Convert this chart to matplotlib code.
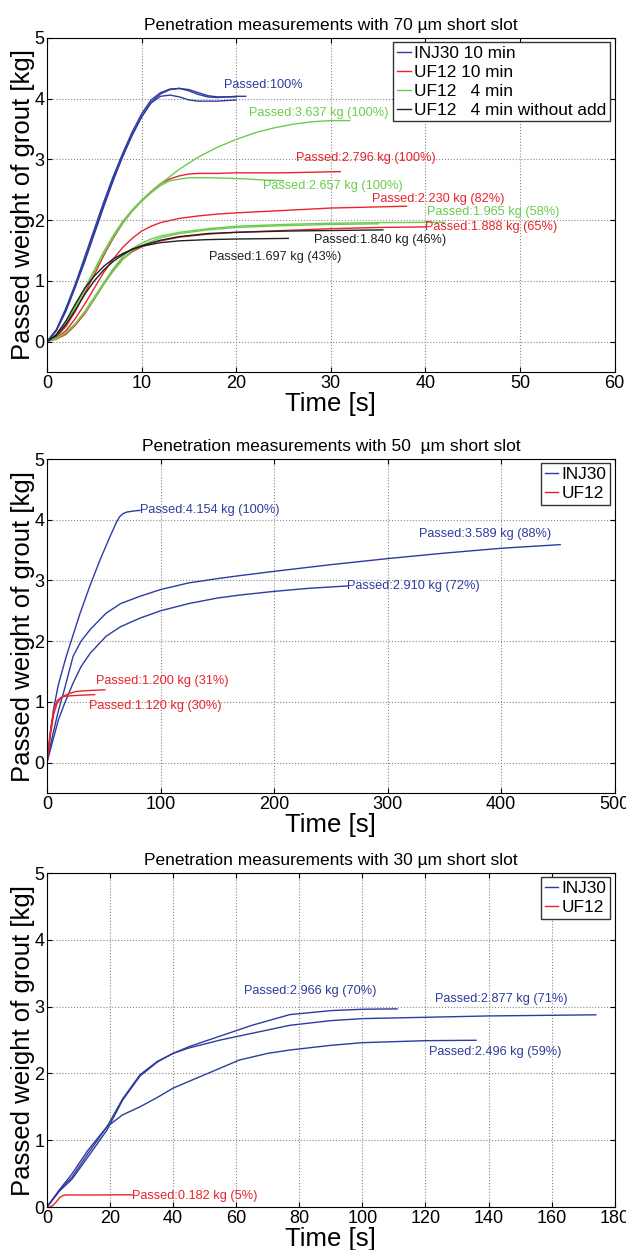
import matplotlib
matplotlib.use('Agg')
import matplotlib.pyplot as plt

plt.rcParams['font.family'] = ['Liberation Sans', 'DejaVu Sans']

BLUE = '#2d3c9e'
RED = '#e8232b'
GREEN = '#6ccb4f'
BLACK = '#222222'

# ---------- 70 um slot ----------
inj70_t = [[0,1,2,3,4,5,6,7,8,9,10,11,12,13,14,15,16,17,18,19,20,21],
           [0,1,2,3,4,5,6,7,8,9,10,11,12,13,14,15,16,17,18,19,20],
           [0,1,2,3,4,5,6,7,8,9,10,11,12,13,14,15,16,17,18,19,20]]
inj70_y = [[0,0.2,0.55,0.95,1.4,1.85,2.3,2.72,3.1,3.45,3.75,3.98,4.1,4.16,4.17,4.13,4.07,4.03,4.02,4.03,4.04,4.04],
           [0,0.18,0.5,0.9,1.32,1.77,2.22,2.65,3.05,3.4,3.7,3.94,4.08,4.15,4.17,4.15,4.1,4.05,4.03,4.03,4.03],
           [0,0.19,0.52,0.92,1.35,1.8,2.25,2.68,3.05,3.4,3.7,3.93,4.04,4.06,4.03,3.98,3.96,3.96,3.96,3.97,3.98]]
uf10_t = [[0,1,2,3,4,5,6,7,8,9,10,11,12,13,14,15,16,18,20,25,31],
          [0,1,2,3,4,5,6,7,8,9,10,11,12,14,16,18,20,25,30,38],
          [0,1,2,3,4,5,6,7,8,9,10,11,12,14,17,20,25,30,35,40]]
uf10_y = [[0,0.08,0.25,0.5,0.8,1.1,1.42,1.7,1.95,2.15,2.32,2.47,2.6,2.68,2.73,2.76,2.77,2.77,2.78,2.78,2.8],
          [0,0.06,0.18,0.38,0.62,0.88,1.14,1.36,1.55,1.7,1.82,1.9,1.96,2.03,2.07,2.1,2.12,2.16,2.2,2.23],
          [0,0.04,0.12,0.27,0.46,0.7,0.95,1.17,1.36,1.48,1.56,1.62,1.66,1.72,1.77,1.8,1.83,1.86,1.88,1.89]]
uf4_t = [[0,1,2,3,4,5,6,7,8,9,10,11,12,14,16,18,20,22,24,26,28,30,32],
         [0,1,2,3,4,5,6,7,8,9,10,11,12,13,15,17,19,21,23,25],
         [0,1,2,3,4,5,6,7,8,9,10,11,12,14,17,20,25,30,35,42],
         [0,1,2,3,4,5,6,7,8,9,10,11,12,14,17,20,25,30,35]]
uf4_y = [[0,0.1,0.3,0.58,0.88,1.18,1.48,1.75,1.98,2.17,2.33,2.47,2.6,2.84,3.04,3.2,3.33,3.44,3.52,3.58,3.62,3.64,3.64],
         [0,0.1,0.29,0.56,0.86,1.16,1.45,1.72,1.95,2.15,2.31,2.45,2.57,2.65,2.7,2.7,2.69,2.68,2.66,2.65],
         [0,0.05,0.15,0.3,0.5,0.73,0.97,1.2,1.4,1.53,1.62,1.69,1.74,1.8,1.86,1.9,1.93,1.95,1.96,1.965],
         [0,0.05,0.14,0.29,0.48,0.7,0.94,1.16,1.35,1.5,1.58,1.65,1.71,1.78,1.84,1.88,1.91,1.93,1.94]]
uf4na_t = [[0,1,2,3,4,5,6,7,8,9,10,12,14,17,20,25,30,35.5],
           [0,1,2,3,4,5,6,7,8,9,10,12,14,17,20,25.5]]
uf4na_y = [[0,0.1,0.28,0.52,0.78,1.0,1.18,1.32,1.43,1.52,1.58,1.67,1.73,1.78,1.8,1.82,1.83,1.84],
           [0,0.12,0.34,0.62,0.88,1.08,1.24,1.36,1.45,1.52,1.57,1.63,1.66,1.68,1.69,1.7]]
notes70 = [('Passed:100%', 18.7, 4.23, BLUE),
           ('Passed:3.637 kg (100%)', 21.4, 3.76, GREEN),
           ('Passed:2.796 kg (100%)', 26.3, 3.02, RED),
           ('Passed:2.657 kg (100%)', 22.8, 2.57, GREEN),
           ('Passed:2.230 kg (82%)', 34.3, 2.35, RED),
           ('Passed:1.965 kg (58%)', 40.2, 2.13, GREEN),
           ('Passed:1.888 kg (65%)', 40.0, 1.88, RED),
           ('Passed:1.840 kg (46%)', 28.2, 1.68, BLACK),
           ('Passed:1.697 kg (43%)', 17.1, 1.40, BLACK)]

# ---------- 50 um slot ----------
inj50_t = [[0,3,6,10,17,23,29,38,47,55,61,64,67,70,75,82],
           [0,5,10,15,23,30,38,52,65,82,100,125,150,170,200,250,300,350,400,452],
           [0,5,10,15,23,30,38,52,65,82,100,125,150,170,200,230,265]]
inj50_y = [[0,0.5,0.9,1.28,1.75,2.1,2.45,2.92,3.35,3.7,3.95,4.05,4.1,4.125,4.14,4.155],
           [0,0.45,0.85,1.18,1.75,2.0,2.19,2.46,2.62,2.74,2.85,2.96,3.03,3.08,3.15,3.26,3.36,3.45,3.53,3.59],
           [0,0.35,0.7,0.95,1.31,1.58,1.8,2.08,2.24,2.38,2.5,2.62,2.71,2.76,2.82,2.87,2.91]]
uf50_t = [[0,3,6,9,12,15,20,25,30,40,51],
          [0,3,6,9,12,15,20,30,42]]
uf50_y = [[0,0.45,0.8,0.98,1.06,1.1,1.14,1.17,1.18,1.19,1.2],
          [0,0.5,0.88,1.02,1.07,1.09,1.1,1.11,1.12]]
notes50 = [('Passed:4.154 kg (100%)', 81.7, 4.16, BLUE),
           ('Passed:3.589 kg (88%)', 327.7, 3.76, BLUE),
           ('Passed:2.910 kg (72%)', 264.3, 2.91, BLUE),
           ('Passed:1.200 kg (31%)', 43.0, 1.34, RED),
           ('Passed:1.120 kg (30%)', 36.6, 0.94, RED)]

# ---------- 30 um slot ----------
inj30_t = [[0,4,8,13,19,24,29.5,35,40,45,55,65,77,90,100,111],
           [0,4,8,13,19,24,29.5,35,40,45,55,65,77,90,100,120,140,160,174],
           [0,4,8,13,19,24,29.5,35,40,50,61,70,77,90,100,120,136]]
inj30_y = [[0,0.25,0.45,0.8,1.2,1.62,1.98,2.18,2.3,2.4,2.56,2.72,2.88,2.94,2.96,2.966],
           [0,0.24,0.42,0.75,1.15,1.6,1.96,2.17,2.3,2.38,2.5,2.6,2.72,2.79,2.82,2.84,2.86,2.87,2.877],
           [0,0.26,0.5,0.85,1.2,1.38,1.5,1.64,1.78,1.98,2.2,2.3,2.35,2.42,2.46,2.49,2.496]]
uf30_t = [[0,1,2,3,4,5,6,10,15,20,27]]
uf30_y = [[0,0,0.03,0.08,0.14,0.17,0.18,0.18,0.18,0.182,0.182]]
notes30 = [('Passed:2.966 kg (70%)', 62.4, 3.23, BLUE),
           ('Passed:2.877 kg (71%)', 123, 3.11, BLUE),
           ('Passed:2.496 kg (59%)', 121, 2.32, BLUE),
           ('Passed:0.182 kg (5%)', 27.1, 0.17, RED)]


def draw(ax, groups, notes, title, xmax, xstep, ymin, labels):
    for (ts, ys, col), lab in zip(groups, labels):
        for i, (t, y) in enumerate(zip(ts, ys)):
            ax.plot(t, y, color=col, lw=1.0, label=lab if i == 0 else None)
    for txt, x, y, col in notes:
        ax.text(x, y, txt, color=col, fontsize=9.2, va='center', ha='left')
    ax.set_xlim(0, xmax)
    ax.set_ylim(ymin, 5)
    ax.set_xticks(range(0, xmax + 1, xstep))
    ax.set_yticks([0, 1, 2, 3, 4, 5])
    ax.grid(True, ls=':', color='#888888', lw=0.8)
    ax.tick_params(direction='in', top=True, right=True, labelsize=13, pad=2)
    ax.set_title(title, fontsize=12.5, pad=6)
    ax.set_xlabel('Time [s]', fontsize=18.5, labelpad=0)
    ax.set_ylabel('Passed weight of grout [kg]', fontsize=18.5, labelpad=-1)
    ax.legend(loc='upper right', fontsize=12.4, handlelength=0.8, handletextpad=0.2,
              borderpad=0.22, labelspacing=0.22, fancybox=False, edgecolor='#333333',
              framealpha=1, borderaxespad=0.25)


fig = plt.figure(figsize=(6.26, 12.5), dpi=100)
ax1 = fig.add_axes([0.075, 0.7024, 0.907, 0.2672])
ax2 = fig.add_axes([0.075, 0.3656, 0.907, 0.2672])
ax3 = fig.add_axes([0.075, 0.0344, 0.907, 0.2672])

draw(ax1, [(inj70_t, inj70_y, BLUE), (uf10_t, uf10_y, RED), (uf4_t, uf4_y, GREEN),
           (uf4na_t, uf4na_y, BLACK)], notes70,
     'Penetration measurements with 70 µm short slot', 60, 10, -0.5,
     ['INJ30 10 min', 'UF12 10 min', 'UF12   4 min', 'UF12   4 min without add'])
draw(ax2, [(inj50_t, inj50_y, BLUE), (uf50_t, uf50_y, RED)], notes50,
     'Penetration measurements with 50  µm short slot', 500, 100, -0.5,
     ['INJ30', 'UF12'])
draw(ax3, [(inj30_t, inj30_y, BLUE), (uf30_t, uf30_y, RED)], notes30,
     'Penetration measurements with 30 µm short slot', 180, 20, 0,
     ['INJ30', 'UF12'])

fig.savefig('out.png', dpi=100)
